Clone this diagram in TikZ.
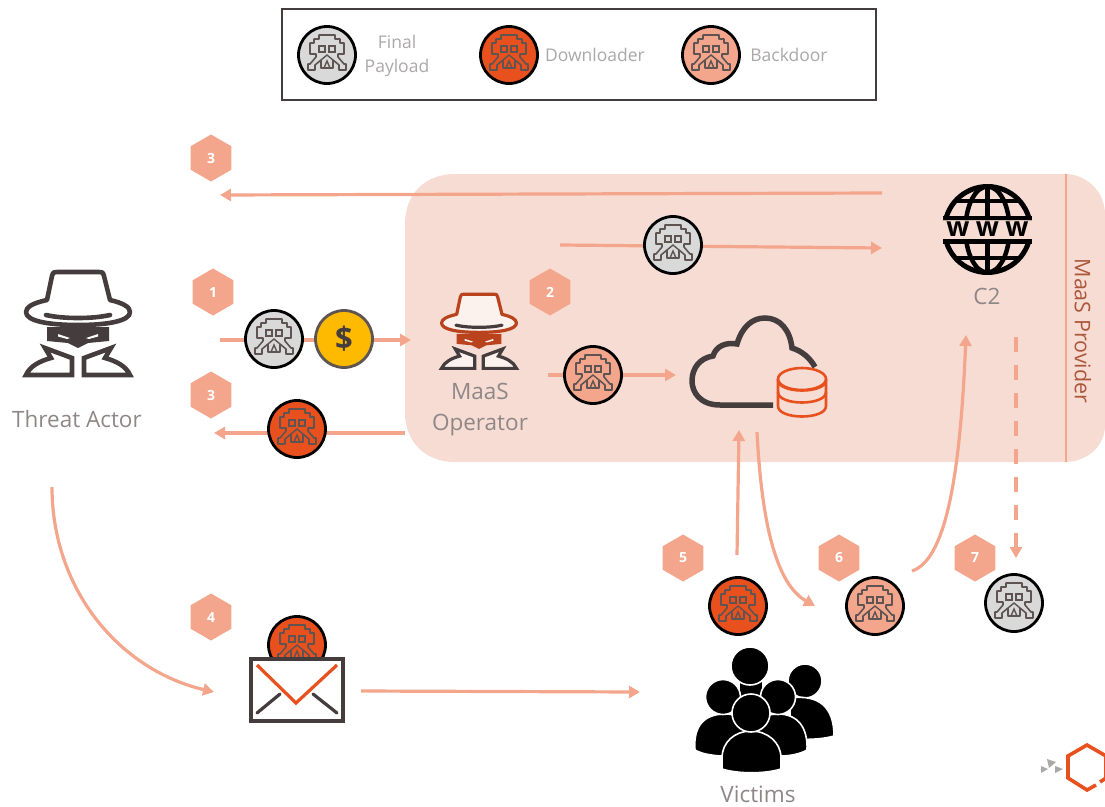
\documentclass[tikz,border=0pt]{standalone}
\usepackage{fontspec}
\setmainfont{Open Sans}
\usetikzlibrary{arrows.meta,shapes.geometric}
\definecolor{sal}{HTML}{F4A68C}
\definecolor{panel}{HTML}{F6DCD3}
\definecolor{orng}{HTML}{E8511E}
\definecolor{grayc}{HTML}{D9D9D9}
\definecolor{dk}{HTML}{453D3D}
\definecolor{brownop}{HTML}{B8431C}
\definecolor{lbl}{HTML}{8F8787}
\definecolor{leg}{HTML}{ABA8A8}
\definecolor{inv}{HTML}{5E5552}
\definecolor{coinc}{HTML}{FDBA00}
\tikzset{
  flow/.style={draw=sal,line width=3.2pt,-{Triangle[length=11pt,width=12pt]}},
  mal/.style={circle,draw=black,line width=2.8pt,minimum size=57pt,inner sep=0pt},
  hexn/.style={regular polygon,regular polygon sides=6,shape border rotate=30,fill=sal,minimum size=47pt,inner sep=0pt,text=white,font=\fontsize{14}{16}\selectfont\bfseries},
  lab/.style={text=lbl,font=\fontsize{22.5}{26}\selectfont,inner sep=0pt},
  leglab/.style={text=leg,font=\fontsize{17.5}{21}\selectfont,inner sep=0pt},
  invader/.pic={
    \draw[inv,line width=1.6pt,line join=round]
      (-8,-20)--(8,-20)--(8,-16)--(13,-16)--(13,-12)--(17,-12)--(17,-1)--(11,-1)--(11,2)--(17,9)--(19,9)--(19,15)--(12,15)--(12,10)--(6,5)--(6,13)--(-6,13)--(-6,5)--(-12,10)--(-12,15)--(-19,15)--(-19,9)--(-17,9)--(-11,2)--(-11,-1)--(-17,-1)--(-17,-12)--(-13,-12)--(-13,-16)--(-8,-16)--cycle;
    \draw[inv,line width=1.4pt] (-8,-9) rectangle (-2,-3) (2,-9) rectangle (8,-3);
    \draw[inv,line width=1.4pt] (-6,5)--(0,0)--(6,5) (-3,13)--(0,6)--(3,13);
  }
}
\newcommand{\malnode}[4]{%
  \node[mal,fill=#4] (#1) at (#2,#3) {};
  \pic at (#1) {invader};
}
\newcommand{\spyicon}[6]{%
  \begin{scope}[shift={(#1,#2)},scale=#3]
    \draw[#4,line width=#6,fill=#5,line join=round]
      (-31,-12) -- (-26,-36) .. controls (-25,-40) and (-24,-40) .. (-21,-40) -- (21,-40) .. controls (24,-40) and (25,-40) .. (26,-36) -- (32,-12) .. controls (45,-9) and (52,-5) .. (52,0) .. controls (52,9) and (30,13) .. (0,13) .. controls (-30,13) and (-52,9) .. (-52,0) .. controls (-52,-5) and (-45,-9) .. (-31,-12) -- cycle;
    \draw[dk,line width=#6,line cap=round] (-32,3) .. controls (-15,7) and (15,7) .. (32,3);
    \fill[#4] (-31,15) -- (31,15) -- (31,29) -- (10,31) -- (0,36) -- (-10,31) -- (-31,29) -- cycle;
    \fill[#5] (-20,22) -- (-8,26) -- (-11,27) -- (-20,24.5) -- cycle (20,22) -- (8,26) -- (11,27) -- (20,24.5) -- cycle;
    \draw[dk,line width=#6,fill=#5,line join=miter]
      (-33,36) -- (-6,46) -- (-6,63) -- (-52,63) .. controls (-48,54) and (-38,49) .. (-27,46) -- cycle
      (33,36) -- (6,46) -- (6,63) -- (52,63) .. controls (48,54) and (38,49) .. (27,46) -- cycle;
  \end{scope}
}
\begin{document}
\begin{tikzpicture}[x=1pt,y=-1pt]
\useasboundingbox (0,0) rectangle (1105,806);
% legend
\node[draw=dk,line width=2.4pt,fill=white,minimum width=594pt,minimum height=91pt,inner sep=0pt] (legend) at (579,54.5) {};
\malnode{lfinal}{327}{55}{grayc}
\malnode{ldown}{509}{55}{orng}
\malnode{lback}{711}{55}{sal}
\node[leglab] (t1) at (397,42) {Final};
\node[leglab] (t2) at (397,67.5) {Payload};
\node[leglab] (t3) at (595,55) {Downloader};
\node[leglab] (t4) at (789,55) {Backdoor};
% panel
\fill[panel] (455,174) -- (1065,174) .. controls (1085,174) and (1105,190) .. (1105,215) -- (1105,425) .. controls (1105,448) and (1085,462) .. (1065,462) -- (455,462) .. controls (425,462) and (405,442) .. (405,412) -- (405,224) .. controls (405,194) and (425,174) .. (455,174) -- cycle;
\coordinate (ptop) at (1066,174);
\coordinate (pbot) at (1066,462);
\draw[sal,line width=2.4pt] (ptop) -- (pbot);
\node[rotate=-90,text=brownop!70!lbl,font=\fontsize{21.5}{25}\selectfont,inner sep=0pt] (prov) at (1083,331) {MaaS Provider};
% coordinates
\coordinate (a1s) at (882,193); \coordinate (a1e) at (220,195);
\coordinate (a2s) at (560,245); \coordinate (a2e) at (882,248);
\coordinate (a3s) at (220,340); \coordinate (a3e) at (411,340);
\coordinate (a4s) at (405,433); \coordinate (a4e) at (214,433);
\coordinate (a5s) at (548,375); \coordinate (a5e) at (676,375);
\coordinate (a6s) at (737,555); \coordinate (a6e) at (739,430);
\coordinate (a7s) at (757,432); \coordinate (a7e) at (815,606);
\coordinate (a8s) at (912,571); \coordinate (a8e) at (966,335);
\coordinate (a9s) at (1016,337); \coordinate (a9e) at (1016,558);
\coordinate (a10s) at (52,487); \coordinate (a10e) at (214,692);
\coordinate (a11s) at (361,691); \coordinate (a11e) at (640,692);
\draw[flow] (a1s) -- (a1e);
\draw[flow] (a2s) -- (a2e);
\draw[flow] (a3s) -- (a3e);
\draw[flow] (a4s) -- (a4e);
\draw[flow] (a5s) -- (a5e);
\draw[flow] (a6s) -- (a6e);
\draw[flow] (a7s) .. controls (762,530) and (778,585) .. (a7e);
\draw[flow] (a8s) .. controls (945,560) and (960,480) .. (a8e);
\draw[flow,dash pattern=on 15pt off 13pt] (a9s) -- (a9e);
\draw[flow] (a10s) .. controls (52,590) and (120,670) .. (a10e);
\draw[flow] (a11s) -- (a11e);
% hexagons
\node[hexn] (h3a) at (211,158) {3};
\node[hexn] (h1) at (213,292) {1};
\node[hexn] (h3b) at (211,395) {3};
\node[hexn] (h2) at (550,292) {2};
\node[hexn] (h4) at (211,617) {4};
\node[hexn] (h5) at (683,558) {5};
\node[hexn] (h6) at (839,558) {6};
\node[hexn] (h7) at (975,558) {7};
% malware circles
\malnode{m1}{673}{245}{grayc}
\malnode{m2}{274}{339}{grayc}
\node[mal,draw=inv,fill=coinc] (coin) at (344,339) {\fontsize{31}{31}\selectfont\bfseries\color{dk}\$};
\malnode{m3}{297}{429}{orng}
\malnode{m4}{593}{375}{sal}
\malnode{m5}{738}{606}{orng}
\malnode{m6}{875}{606}{sal}
\malnode{m7}{1014}{603}{grayc}
% threat actor and operator
\spyicon{78}{312}{1}{dk}{white}{4.6pt}
\node[lab] (ta) at (77,419) {Threat Actor};
\spyicon{479}{323}{.72}{brownop}{panel!40!white}{3.2pt}
\node[lab] (mo1) at (480,391) {MaaS};
\node[lab] (mo2) at (480,425) {Operator};
% cloud
\draw[dk,line width=5.5pt,line cap=butt] (773,405) -- (720,405) .. controls (700,405) and (692,392) .. (692,381) .. controls (692,368) and (700,358) .. (713,356) .. controls (716,346) and (726,342) .. (737,344) .. controls (742,327) and (752,318) .. (765,318) .. controls (780,318) and (790,330) .. (792,348) .. controls (802,351) and (810,358) .. (815,367);
\coordinate (dbc) at (802,379);
\draw[orng,line width=2.6pt,fill=panel] (778,379) -- (778,406) .. controls (778,420) and (826,420) .. (826,406) -- (826,379);
\draw[orng,line width=2.6pt,fill=panel] (dbc) ellipse [x radius=24,y radius=11];
\draw[orng,line width=2.6pt] (778,392) .. controls (778,406) and (826,406) .. (826,392);
\draw[orng,line width=2.6pt] (778,380) .. controls (778,394) and (826,394) .. (826,380);
% globe
\coordinate (gc) at (987.5,229.5);
\begin{scope}
  \clip (930,175) rectangle (1045,220) (930,239) rectangle (1045,285);
  \draw[black,line width=5pt] (gc) circle [radius=43];
  \draw[black,line width=4.5pt] (gc) ellipse [x radius=22,y radius=43];
  \draw[black,line width=4.5pt] (987.5,185) -- (987.5,275);
  \draw[black,line width=4.5pt] (955,201) -- (1020,201) (955,258) -- (1020,258);
  \draw[black,line width=5pt] (943,218) -- (1032,218) (943,241) -- (1032,241);
\end{scope}
\node[inner sep=0pt,font=\fontsize{27}{27}\selectfont\bfseries] (w1) at (958,229) {w};
\node[inner sep=0pt,font=\fontsize{27}{27}\selectfont\bfseries] (w2) at (987.5,229) {w};
\node[inner sep=0pt,font=\fontsize{27}{27}\selectfont\bfseries] (w3) at (1017,229) {w};
\node[lab] (c2) at (987,296) {C2};
% envelope
\malnode{m8}{297}{645}{orng}
\node[draw=dk,line width=4.5pt,fill=white,minimum width=92pt,minimum height=62pt,inner sep=0pt] (env) at (297,690) {};
\coordinate (v1) at (257,665); \coordinate (v2) at (296,703); \coordinate (v3) at (337,665);
\coordinate (l1) at (280,694); \coordinate (l2) at (257,713); \coordinate (r1) at (313,694); \coordinate (r2) at (337,713);
\draw[orng,line width=3.2pt] (v1) -- (v2) -- (v3);
\draw[dk,line width=3.2pt,line cap=round] (l1) -- (l2) (r1) -- (r2);
% victims
\tikzset{person/.style={fill=black,draw=white,line width=1.6pt}}
\fill[black] (740,680) rectangle (762,705);
\draw[person] (805,681) circle [radius=17];
\draw[person] (790,698) .. controls (820,694) and (834,708) .. (834,736) .. controls (820,740) and (800,740) .. (790,738) -- cycle;
\draw[person] (750,666) circle [radius=19];
\draw[person] (695,750) .. controls (693,725) and (705,714) .. (725,714) .. controls (745,714) and (752,725) .. (752,756) -- (720,756) .. controls (710,755) and (702,754) .. (695,750) -- cycle;
\draw[person] (723,697) circle [radius=17.5];
\draw[person] (750,756) -- (750,730) .. controls (752,720) and (765,714) .. (778,714) .. controls (798,714) and (808,728) .. (807,750) .. controls (800,754) and (790,756) .. (780,756) -- cycle;
\draw[person] (778,697) circle [radius=17.5];
\draw[person] (722,769) -- (722,758) .. controls (722,742) and (735,731) .. (751,731) .. controls (767,731) and (781,742) .. (781,758) -- (781,769) .. controls (765,774) and (738,774) .. (722,769) -- cycle;
\draw[person] (751,713) circle [radius=19];
\node[lab] (vic) at (758,794) {Victims};
% logo
\draw[orng,line width=3.6pt,line join=miter] (1096,785) -- (1087,790) -- (1068,778) -- (1068,756) -- (1087,745) -- (1106,756) -- (1106,778) -- (1100,782);
\fill[leg] (1047,759) -- (1056,762) -- (1049,768) -- cycle;
\fill[leg] (1041,766) -- (1048,769) -- (1041,773) -- cycle;
\fill[leg] (1055,766) -- (1063,769) -- (1055,773) -- cycle;
\end{tikzpicture}
\end{document}
